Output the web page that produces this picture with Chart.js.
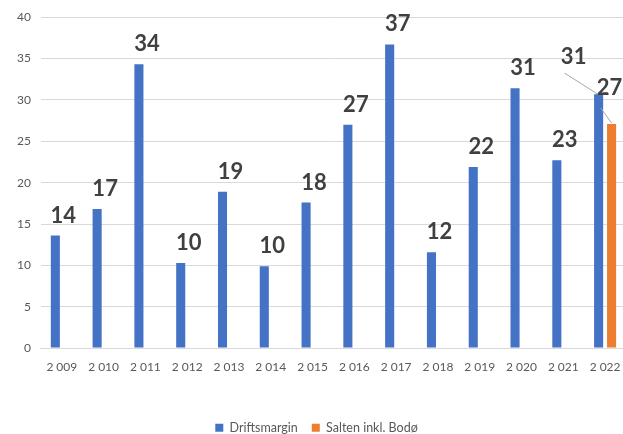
<!DOCTYPE html>
<html>
<head>
<meta charset="utf-8">
<script src="https://cdn.jsdelivr.net/npm/chart.js@4"></script>
<style>
  html, body { margin: 0; padding: 0; background: #fff; overflow: hidden; }
  #wrap { width: 626px; height: 434px; }
</style>
</head>
<body>
<div id="wrap"><canvas id="chart"></canvas></div>
<script>
const years = ['2\u202F009', '2\u202F010', '2\u202F011', '2\u202F012', '2\u202F013', '2\u202F014', '2\u202F015',
  '2\u202F016', '2\u202F017', '2\u202F018', '2\u202F019', '2\u202F020', '2\u202F021', '2\u202F022'];
const driftsmargin = [13.6, 16.8, 34.3, 10.3, 18.9, 9.9, 17.6, 27.0, 36.7, 11.6, 21.9, 31.4, 22.7, 30.7];
const saltenBodo = [null, null, null, null, null, null, null, null, null, null, null, null, null, 27.1];
const yTicks = [0, 5, 10, 15, 20, 25, 30, 35, 40];

// labels moved by hand in the original (last year), with leader lines
const movedLabels = {
  '0-13': { dx: -25, dy: -30, line: [-34, -21, -1, 0] },
  '1-13': { dx: -2, dy: -29, line: [-11, -16, 0, -1] }
};

const valueLabels = {
  id: 'valueLabels',
  afterDatasetsDraw(chart) {
    const ctx = chart.ctx;
    ctx.save();
    ctx.font = 'bold 22px Lato';
    ctx.fillStyle = '#404040';
    ctx.textAlign = 'center';
    ctx.textBaseline = 'alphabetic';
    chart.data.datasets.forEach((ds, di) => {
      chart.getDatasetMeta(di).data.forEach((bar, i) => {
        const v = ds.data[i];
        if (v == null) return;
        const moved = movedLabels[di + '-' + i];
        let x = bar.x + 8, y = bar.y - 13;
        if (moved) {
          x = bar.x + moved.dx;
          y = bar.y + moved.dy;
          const l = moved.line;
          ctx.strokeStyle = '#a6a6a6';
          ctx.lineWidth = 1;
          ctx.beginPath();
          ctx.moveTo(bar.x + l[0], bar.y + l[1]);
          ctx.lineTo(bar.x + l[2], bar.y + l[3]);
          ctx.stroke();
        }
        ctx.fillText(Math.round(v), x, y);
      });
    });
    ctx.restore();
  }
};

new Chart(document.getElementById('chart'), {
  type: 'bar',
  data: {
    labels: years,
    datasets: [
      { label: 'Driftsmargin', data: driftsmargin, backgroundColor: '#4472C4',
        categoryPercentage: 0.62, barPercentage: 0.7 },
      { label: 'Salten inkl. Bodø', data: saltenBodo, backgroundColor: '#ED7D31',
        categoryPercentage: 0.62, barPercentage: 0.7 }
    ]
  },
  options: {
    responsive: true,
    maintainAspectRatio: false,
    animation: false,
    layout: { padding: { top: 7, left: 7, right: 0, bottom: -10 } },
    plugins: {
      legend: {
        position: 'bottom',
        labels: {
          boxWidth: 8, boxHeight: 8, padding: 14, color: '#595959',
          font: { family: 'Lato', size: 12.5 }
        }
      },
      tooltip: { enabled: false }
    },
    scales: {
      x: {
        grid: { display: true, color: 'rgba(0,0,0,0)', drawTicks: true, tickLength: 12 },
        border: { color: '#d9d9d9' },
        ticks: { color: '#595959', padding: 0, font: { family: 'Lato', size: 12 }, maxRotation: 0 },
        afterFit(scale) { scale.height += 33; }
      },
      y: {
        min: 0, max: 40,
        afterBuildTicks(scale) { scale.ticks = yTicks.map(v => ({ value: v })); },
        grid: { color: '#d9d9d9', drawTicks: false },
        border: { display: false },
        ticks: { color: '#595959', padding: 10, font: { family: 'Lato', size: 12 } }
      }
    }
  },
  plugins: [valueLabels]
});
</script>
</body>
</html>
